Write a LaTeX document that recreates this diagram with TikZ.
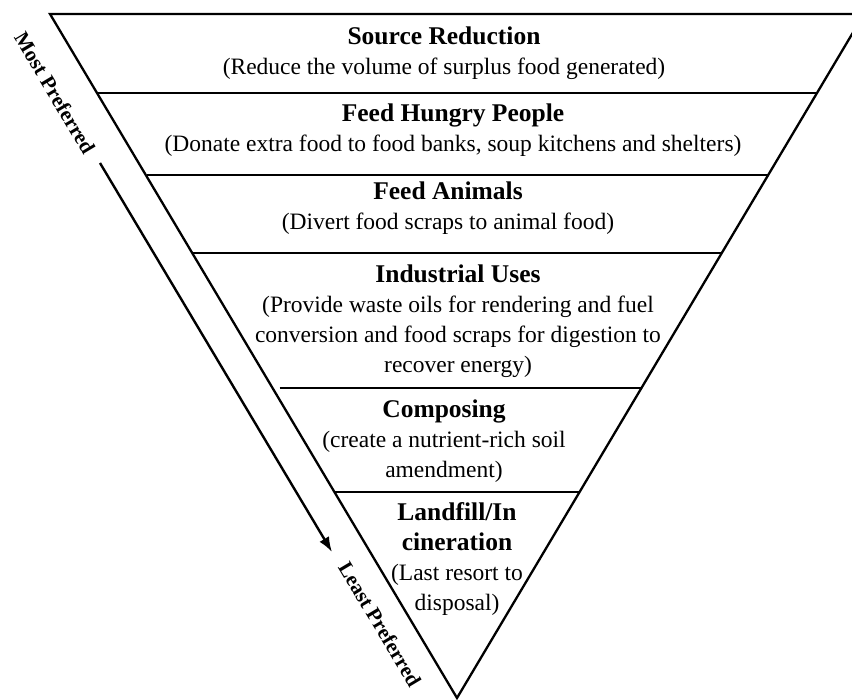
\documentclass[tikz,border=0pt]{standalone}
\usepackage{fontspec}
\setmainfont{Liberation Serif}
\usetikzlibrary{calc,arrows.meta}
\tikzset{
  edge/.style={line width=2.3pt, line join=miter},
  divider/.style={line width=2.6pt},
  sect/.style={align=center, inner sep=0pt, font=\fontsize{23.5}{30}\selectfont},
  side/.style={inner sep=0pt, font=\bfseries\fontsize{21}{24}\selectfont, rotate=-59.2},
  arrowline/.style={line width=2.4pt, -{Latex[length=15pt,width=11pt]}}
}
\newcommand{\ttl}[1]{{\bfseries\fontsize{25.5}{30}\selectfont #1}}
\begin{document}
\begin{tikzpicture}[x=1pt,y=-1pt]
\useasboundingbox (0,0) rectangle (852,700);
\clip (0,0) rectangle (852,700);
\coordinate (TL) at (50,14);
\coordinate (TR) at (864,14);
\coordinate (A) at (457,698);
\draw[edge] (TL) -- (TR) -- (A) -- cycle;
\foreach \t/\g in {0.1155/0, 0.2354/0, 0.3494/0, 0.5468/6, 0.6988/0}{
  \draw[divider] ($(TL)!\t!(A)+(\g+1,0)$) -- ($(TR)!\t!(A)$);
}
\node[sect] (s1) at (444,53) {\ttl{Source Reduction}\\(Reduce the volume of surplus food generated)};
\node[sect] (s2) at (453,130) {\ttl{Feed Hungry People}\\(Donate extra food to food banks, soup kitchens and shelters)};
\node[sect] (s3) at (448,208) {\ttl{Feed Animals}\\(Divert food scraps to animal food)};
\node[sect] (s4) at (458,321) {\ttl{Industrial Uses}\\(Provide waste oils for rendering and fuel\\conversion and food scraps for digestion to\\recover energy)};
\node[sect] (s5) at (444,441) {\ttl{Composing}\\(create a nutrient-rich soil\\amendment)};
\node[sect] (s6) at (457,559) {\ttl{Landfill/In}\\\ttl{cineration}\\(Last resort to\\disposal)};
\coordinate (arrS) at (100,163);
\coordinate (arrE) at (332,552);
\draw[arrowline] (arrS) -- (arrE);
\node[side] (most) at (55,93) {Most Preferred};
\node[side] (least) at (380,624) {Least Preferred};
\end{tikzpicture}
\end{document}
